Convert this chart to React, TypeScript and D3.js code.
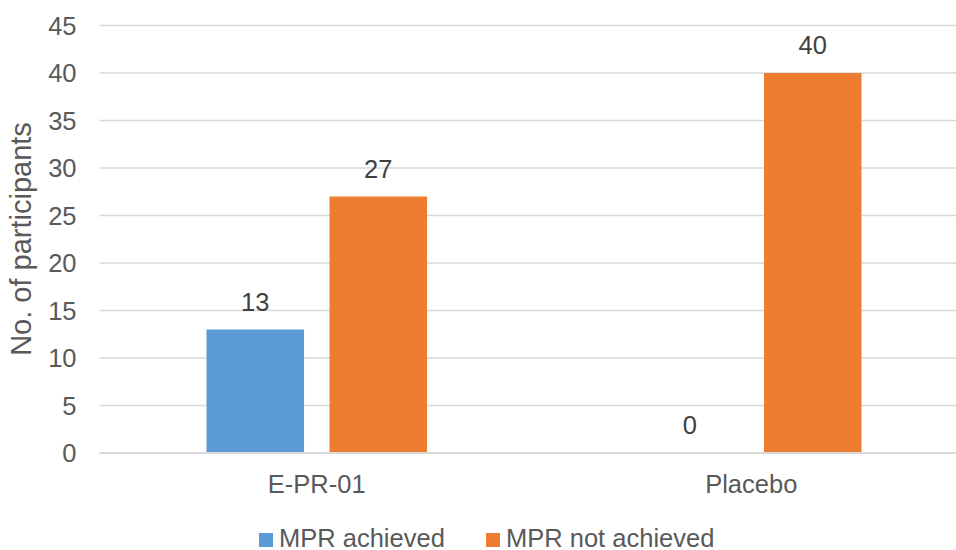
import React from "react";
import * as d3 from "d3";

const categories = ["E-PR-01", "Placebo"];
const seriesNames = ["MPR achieved", "MPR not achieved"];
const achieved = [13, 0];
const notAchieved = [27, 40];
const yTicks = [0, 5, 10, 15, 20, 25, 30, 35, 40, 45];

const colors = ["#5B9BD5", "#ED7D31"];
const W = 956;
const H = 550;
const FONT = "Arial, 'Liberation Sans', sans-serif";
const FS = 25.5;

export default function App() {
  const values = [achieved, notAchieved];
  const x0 = d3.scaleBand<string>().domain(categories).range([99.5, 968.5]).padding(0);
  const x1 = d3
    .scaleBand<string>()
    .domain(seriesNames)
    .range([0, x0.bandwidth()])
    .paddingInner(0.207)
    .paddingOuter(0.87);
  const y = d3.scaleLinear().domain([0, 45]).range([453, 25.5]);

  return (
    <svg
      width={W}
      height={H}
      style={{ position: "absolute", left: 0, top: 0, background: "#fff" }}
      fontFamily={FONT}
    >
      {/* gridlines */}
      {yTicks.filter((t) => t > 0).map((t) => (
        <line key={t} x1={99.5} x2={W} y1={y(t)} y2={y(t)} stroke="#d9d9d9" strokeWidth={1.4} />
      ))}
      {/* y tick labels */}
      {yTicks.map((t) => (
        <text key={t} x={76.5} y={y(t)} dy="0.36em" textAnchor="end" fontSize={FS} fill="#595959">
          {t}
        </text>
      ))}
      {/* bars and value labels */}
      {categories.map((c, ci) => (
        <g key={c} transform={`translate(${x0(c)},0)`}>
          {seriesNames.map((s, si) => {
            const v = values[si][ci];
            const bx = x1(s) as number;
            return (
              <g key={s}>
                {v > 0 && (
                  <rect x={bx} y={y(v)} width={x1.bandwidth()} height={y(0) - y(v)} fill={colors[si]} />
                )}
                <text
                  x={bx + x1.bandwidth() / 2}
                  y={y(v) - 19}
                  textAnchor="middle"
                  fontSize={FS}
                  fill="#404040"
                >
                  {v}
                </text>
              </g>
            );
          })}
        </g>
      ))}
      {/* baseline */}
      <line x1={99.5} x2={W} y1={y(0)} y2={y(0)} stroke="#d9d9d9" strokeWidth={2.2} />
      {/* category labels */}
      {categories.map((c) => (
        <text
          key={c}
          x={(x0(c) as number) + x0.bandwidth() / 2}
          y={493}
          textAnchor="middle"
          fontSize={FS}
          fill="#595959"
        >
          {c}
        </text>
      ))}
      {/* y axis title */}
      <text
        transform={`translate(31,239) rotate(-90)`}
        textAnchor="middle"
        fontSize={29}
        fill="#595959"
      >
        No. of participants
      </text>
      {/* legend */}
      {seriesNames.map((s, i) => {
        const lx = [259, 486][i];
        return (
          <g key={s}>
            <rect x={lx} y={533} width={14} height={14} fill={colors[i]} />
            <text x={lx + 20} y={547} fontSize={FS} fill="#595959">
              {s}
            </text>
          </g>
        );
      })}
    </svg>
  );
}
